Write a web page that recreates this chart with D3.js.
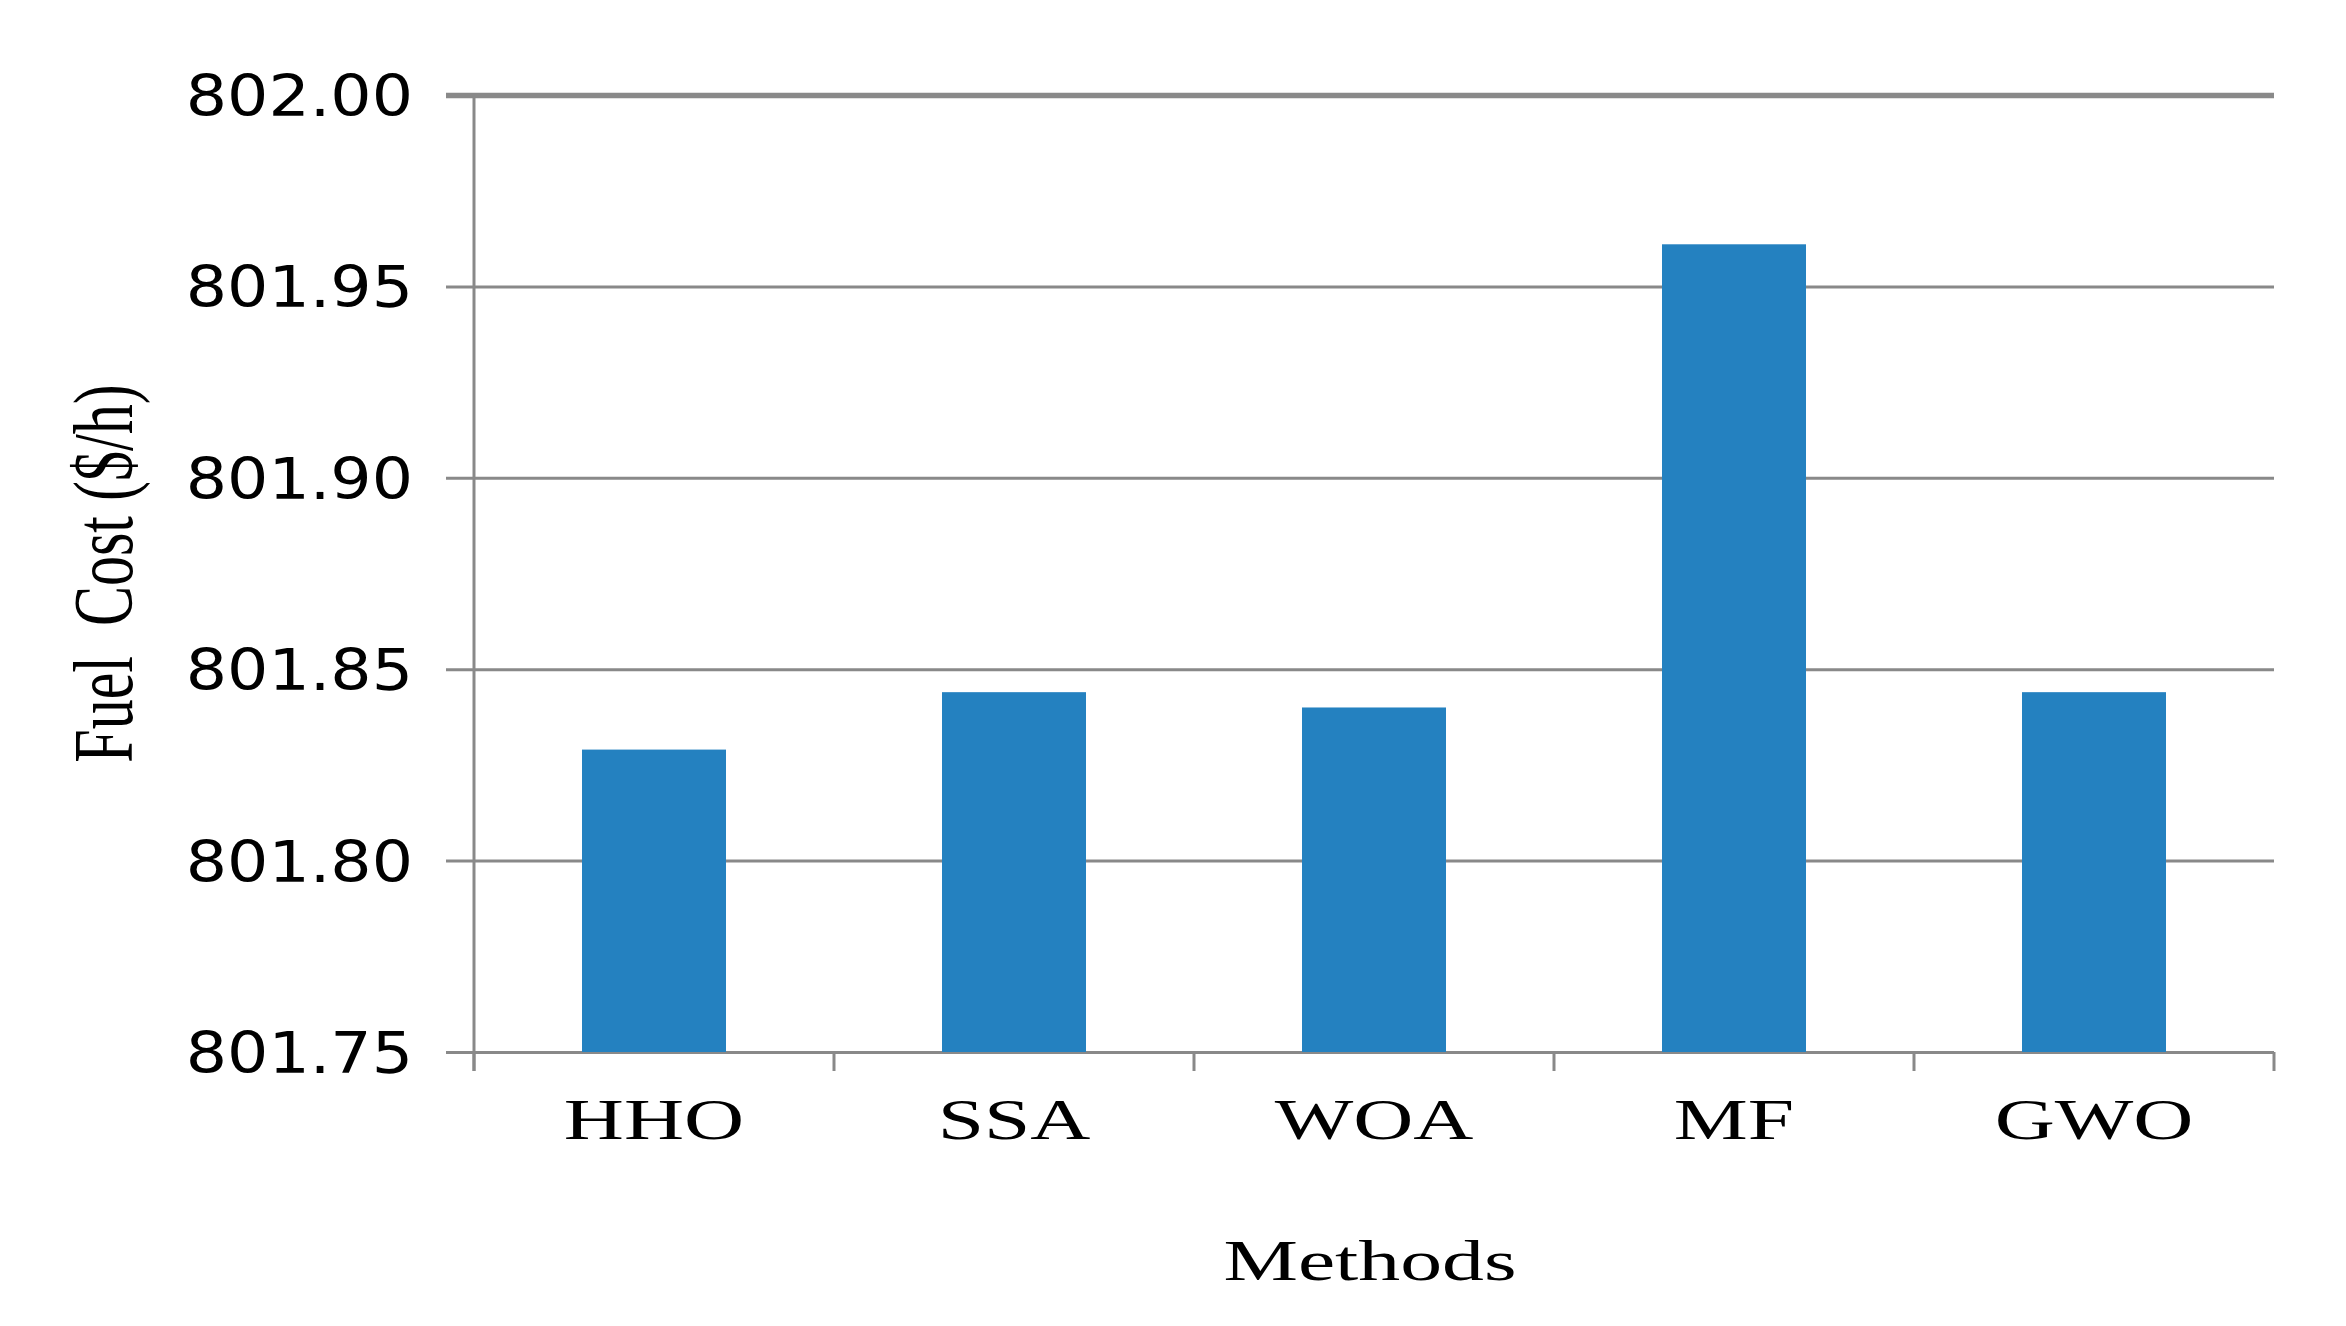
<!DOCTYPE html>
<html>
<head>
<meta charset="utf-8">
<script src="https://cdn.jsdelivr.net/npm/d3@7"></script>
<style>
  html, body { margin: 0; padding: 0; background: #ffffff; }
  svg { display: block; }
</style>
</head>
<body>
<svg id="chart" width="2346" height="1326"></svg>
<script>
// ---- data ----
const categories = ["HHO", "SSA", "WOA", "MF", "GWO"];
const fuelCost = [801.829, 801.844, 801.840, 801.961, 801.844];
const yTicks = [801.75, 801.80, 801.85, 801.90, 801.95, 802.00];
const yTickLabels = ["801.75", "801.80", "801.85", "801.90", "801.95", "802.00"];
const xTitle = "Methods";
const yTitle = "Fuel  Cost ($/h)";

// ---- layout ----
const W = 2346, H = 1326;
const plotLeft = 474, plotRight = 2274, plotTop = 95, plotBottom = 1052;
const gridColor = "#898989";
const barColor = "#2481c0";
const serif = "'Liberation Serif', 'Times New Roman', serif";
const sans = "'DejaVu Sans', Verdana, sans-serif";

const svg = d3.select("#chart");
svg.append("rect").attr("width", W).attr("height", H).attr("fill", "#fff");

const x = d3.scaleBand().domain(categories).range([plotLeft, plotRight])
  .paddingInner(0.6).paddingOuter(0.3);
const y = d3.scaleLinear().domain([801.75, 802.00]).range([plotBottom, plotTop]);

// ---- y axis with gridlines ----
const yAxis = d3.axisLeft(y).tickValues(yTicks).tickSize(28)
  .tickFormat((d, i) => yTickLabels[i]);
const gy = svg.append("g").attr("transform", `translate(${plotLeft},0)`).call(yAxis);
gy.select(".domain").remove();
gy.selectAll(".tick line")
  .attr("x1", plotRight - plotLeft)
  .attr("stroke", gridColor)
  .attr("stroke-width", d => d === 802.00 ? 5.5 : 3);
gy.selectAll(".tick text")
  .attr("x", null).attr("dy", null)
  .attr("y", 20.5)
  .attr("transform", "translate(-61,0) scale(1.16,1)")
  .attr("text-anchor", "end")
  .attr("fill", "#000")
  .style("font-family", sans)
  .style("font-size", "56px");

// ---- bars ----
svg.append("g").selectAll("rect").data(categories).join("rect")
  .attr("x", d => x(d))
  .attr("width", x.bandwidth())
  .attr("y", (d, i) => y(fuelCost[i]))
  .attr("height", (d, i) => y(801.75) - y(fuelCost[i]))
  .attr("fill", barColor);

// ---- x axis ----
const xAxis = d3.axisBottom(x).tickSize(0);
const gx = svg.append("g").attr("transform", `translate(0,${plotBottom})`).call(xAxis);
gx.select(".domain").remove();
gx.selectAll(".tick line").remove();
gx.selectAll(".tick text")
  .attr("y", null).attr("dy", null)
  .attr("transform", "translate(0,87) scale(1.46,1)")
  .attr("text-anchor", "middle")
  .attr("fill", "#000")
  .style("font-family", serif)
  .style("font-size", "57px");

// boundary ticks
const gap = (x.step() - x.bandwidth()) / 2;
const bounds = categories.map(d => x(d) - gap)
  .concat([x(categories[categories.length - 1]) + x.bandwidth() + gap]);
svg.append("g").selectAll("line").data(bounds).join("line")
  .attr("x1", d => d).attr("x2", d => d)
  .attr("y1", plotBottom).attr("y2", plotBottom + 19)
  .attr("stroke", gridColor).attr("stroke-width", 3);

// vertical axis line
svg.append("line")
  .attr("x1", plotLeft).attr("x2", plotLeft)
  .attr("y1", plotTop).attr("y2", plotBottom + 19)
  .attr("stroke", gridColor).attr("stroke-width", 3);

// ---- titles ----
svg.append("text")
  .attr("transform", `translate(${(plotLeft + plotRight) / 2 - 4},1280) scale(1.47,1)`)
  .attr("text-anchor", "middle")
  .style("font-family", serif).style("font-size", "57px")
  .attr("fill", "#000")
  .text(xTitle);

svg.append("text")
  .attr("transform", `translate(132,${(plotTop + plotBottom) / 2}) scale(1.4,1) rotate(-90)`)
  .attr("text-anchor", "middle")
  .style("font-family", serif).style("font-size", "60px")
  .style("white-space", "pre")
  .attr("fill", "#000")
  .text(yTitle);
</script>
</body>
</html>
